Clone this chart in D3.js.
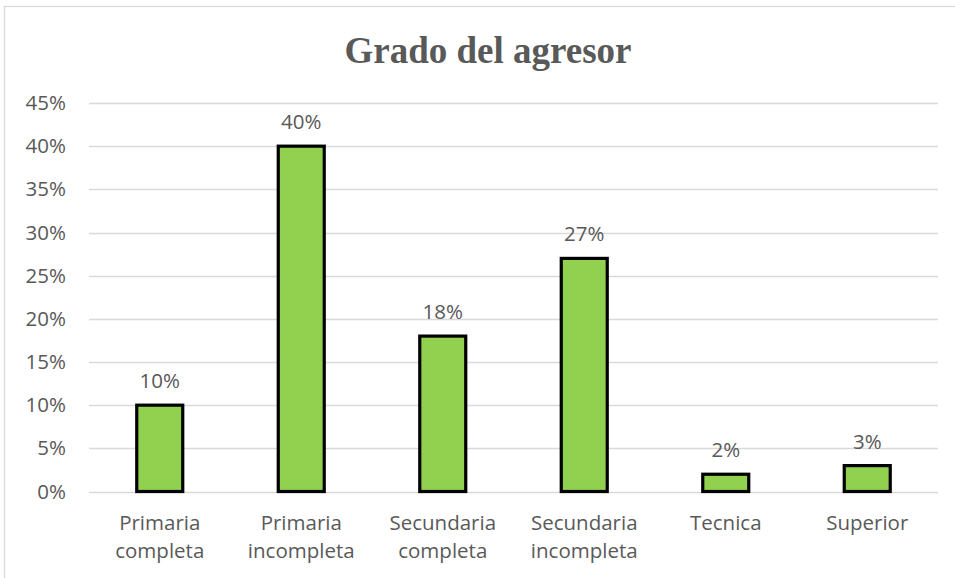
<!DOCTYPE html>
<html>
<head>
<meta charset="utf-8">
<script src="https://cdn.jsdelivr.net/npm/d3@7"></script>
<style>
  body { margin: 0; background: #fff; }
  svg text { fill: #595959; }
</style>
</head>
<body>
<svg id="chart" width="955" height="578"></svg>
<script>
// categories and values
var categories = ['Primaria completa', 'Primaria incompleta', 'Secundaria completa', 'Secundaria incompleta', 'Tecnica', 'Superior'];
var categoryLines = [['Primaria', 'completa'], ['Primaria', 'incompleta'], ['Secundaria', 'completa'], ['Secundaria', 'incompleta'], ['Tecnica'], ['Superior']];
var values = [0.10, 0.40, 0.18, 0.27, 0.02, 0.03];
var yTicks = [0, 0.05, 0.10, 0.15, 0.20, 0.25, 0.30, 0.35, 0.40, 0.45];

var svg = d3.select('#chart');
var plotLeft = 89, plotRight = 938, plotTop = 103, plotBottom = 491.5;
var labelFont = '"Open Sans", "Noto Sans", sans-serif';
var labelSize = '20.5px';

// chart border
svg.append('rect')
    .attr('x', 4.5).attr('y', 6.5)
    .attr('width', 1000).attr('height', 1000)
    .attr('fill', 'none').attr('stroke', '#d9d9d9').attr('stroke-width', 1.3);

var x = d3.scaleBand().domain(categories).range([plotLeft, plotRight]).paddingInner(0.675).paddingOuter(0.3375);
var y = d3.scaleLinear().domain([0, 0.45]).range([plotBottom, plotTop]);

// gridlines
svg.append('g').selectAll('line')
    .data(yTicks)
    .enter().append('line')
    .attr('x1', plotLeft).attr('x2', plotRight)
    .attr('y1', function(d) { return Math.round(y(d)) + 0.5; })
    .attr('y2', function(d) { return Math.round(y(d)) + 0.5; })
    .attr('stroke', '#d9d9d9').attr('stroke-width', 1.3);

// y axis labels
var yAxis = d3.axisLeft(y).tickValues(yTicks).tickFormat(d3.format('.0%')).tickSize(0).tickPadding(0);
var ya = svg.append('g').attr('transform', 'translate(66,0)').call(yAxis);
ya.select('.domain').remove();
ya.selectAll('text')
    .style('font-family', labelFont)
    .style('font-size', labelSize)
    .attr('fill', '#595959');

// bars
svg.append('g').selectAll('rect')
    .data(values)
    .enter().append('rect')
    .attr('x', function(d, i) { return x(categories[i]); })
    .attr('y', function(d) { return y(d); })
    .attr('width', x.bandwidth())
    .attr('height', function(d) { return plotBottom - y(d); })
    .attr('fill', '#92d050')
    .attr('stroke', '#000')
    .attr('stroke-width', 3.2);

// data labels
svg.append('g').selectAll('text')
    .data(values)
    .enter().append('text')
    .attr('x', function(d, i) { return x(categories[i]) + x.bandwidth() / 2; })
    .attr('y', function(d) { return y(d) - 17; })
    .attr('text-anchor', 'middle')
    .style('font-family', labelFont)
    .style('font-size', labelSize)
    .text(function(d) { return d3.format('.0%')(d); });

// category labels
var cat = svg.append('g').selectAll('text')
    .data(categoryLines)
    .enter().append('text')
    .attr('text-anchor', 'middle')
    .style('font-family', labelFont)
    .style('font-size', labelSize);
cat.each(function(lines, i) {
    var cx = x(categories[i]) + x.bandwidth() / 2;
    d3.select(this).selectAll('tspan')
        .data(lines)
        .enter().append('tspan')
        .attr('x', cx)
        .attr('y', function(d, j) { return 530 + j * 28; })
        .text(function(d) { return d; });
});

// title
svg.append('text')
    .attr('x', 488).attr('y', 63)
    .attr('text-anchor', 'middle')
    .style('font-family', '"Liberation Serif", "Times New Roman", serif')
    .style('font-weight', 'bold')
    .style('font-size', '37px')
    .text('Grado del agresor');
</script>
</body>
</html>
